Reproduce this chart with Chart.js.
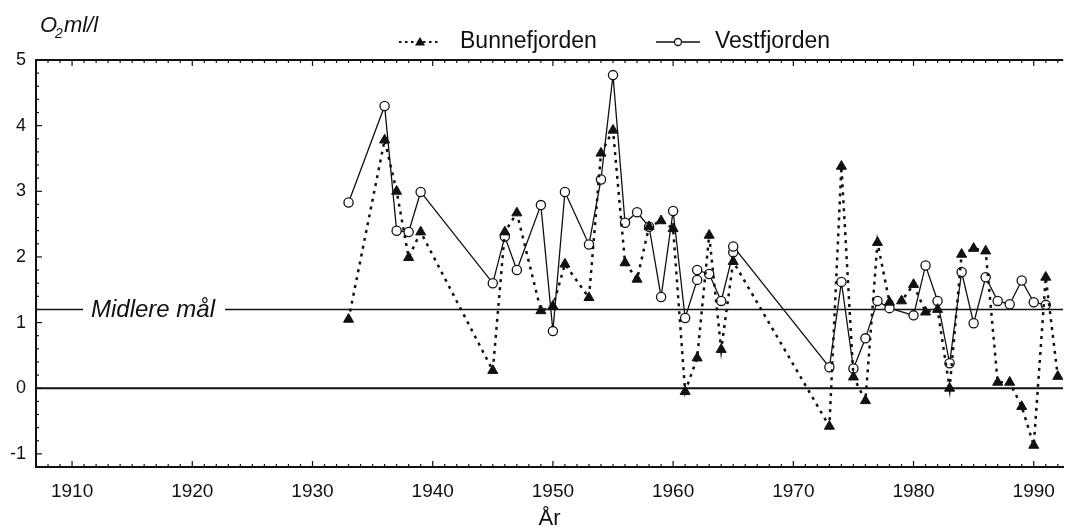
<!DOCTYPE html>
<html><head><meta charset="utf-8">
<script src="https://cdn.jsdelivr.net/npm/chart.js@4.4.1/dist/chart.umd.min.js"></script>
<style>html,body{margin:0;padding:0;background:#fff;}canvas{display:block}</style>
</head><body>
<canvas id="c" width="1070" height="532"></canvas>
<script>
// ---- data ----
const YEARS_BUNNE = [1933,1936,1937,1938,1939,1945,1946,1947,1949,1950,1951,1953,1954,1955,1956,1957,1958,1959,1960,1961,1962,1963,1964,1965,1973,1974,1975,1976,1977,1978,1979,1980,1981,1982,1983,1984,1985,1986,1987,1988,1989,1990,1991,1992];
const BUNNE = [1.05,3.78,3.00,1.99,2.38,0.27,2.38,2.67,1.18,1.25,1.89,1.38,3.58,3.93,1.91,1.66,2.46,2.55,2.43,-0.05,0.46,2.33,0.59,1.93,-0.58,3.38,0.17,-0.19,2.22,1.31,1.33,1.58,1.16,1.20,0.00,2.04,2.13,2.09,0.09,0.09,-0.28,-0.87,1.69,0.18];
const YEARS_VEST = [1933,1936,1937,1938,1939,1945,1946,1947,1949,1950,1951,1953,1954,1955,1956,1957,1958,1959,1960,1961,1962,1962,1963,1964,1965,1965,1973,1974,1975,1976,1977,1978,1980,1981,1982,1983,1984,1985,1986,1987,1988,1989,1990,1991];
const VEST = [2.83,4.30,2.40,2.38,2.99,1.60,2.31,1.80,2.79,0.87,2.99,2.19,3.18,4.77,2.52,2.68,2.46,1.39,2.70,1.07,1.65,1.80,1.74,1.33,2.07,2.16,0.32,1.62,0.30,0.76,1.33,1.22,1.11,1.87,1.33,0.38,1.77,0.99,1.69,1.33,1.28,1.64,1.31,1.27];
const X_TICKS = [1910,1920,1930,1940,1950,1960,1970,1980,1990];
const Y_TICKS = [-1,0,1,2,3,4,5];
const X_MIN = 1907, X_MAX = 1992.45, Y_MIN = -1.2, Y_MAX = 5;
const MEAN_LEVEL = 1.2;
const ZERO_LEVEL = 0;
const SERIES_NAMES = ['Bunnefjorden','Vestfjorden'];
const MEAN_LABEL = 'Midlere mål';
const X_TITLE = 'År';
const Y_UNIT = ['O','2','ml/l'];

const FONT = "'Liberation Sans', Arial, Helvetica, sans-serif";
const INK = '#111';

function pts(xs, ys){ return xs.map((x,i)=>({x:x,y:ys[i]})); }

const decor = {
  id:'decor',
  afterDatasetsDraw(chart){
    const ctx = chart.ctx, ca = chart.chartArea;
    const xs = chart.scales.x, ys = chart.scales.y;
    ctx.save();
    ctx.strokeStyle = INK;
    // top border
    ctx.lineWidth = 2;
    ctx.beginPath(); ctx.moveTo(ca.left, ca.top); ctx.lineTo(ca.right, ca.top); ctx.stroke();
    // year ticks bottom/top
    ctx.lineWidth = 1.2;
    for (let yr = Math.ceil(X_MIN); yr <= X_MAX; yr++) {
      const px = xs.getPixelForValue(yr);
      const len = (yr % 10 === 0) ? 6 : 3;
      ctx.beginPath();
      ctx.moveTo(px, ca.bottom); ctx.lineTo(px, ca.bottom - len);
      ctx.moveTo(px, ca.top); ctx.lineTo(px, ca.top + len);
      ctx.stroke();
    }
    // y ticks every 0.2
    for (let k = Math.round(Y_MIN*5)+1; k < Math.round(Y_MAX*5); k++) {
      const v = k/5;
      const py = ys.getPixelForValue(v);
      const len = (k % 5 === 0) ? 6 : 3;
      ctx.beginPath(); ctx.moveTo(ca.left, py); ctx.lineTo(ca.left + len, py); ctx.stroke();
    }
    // mean label
    const my = ys.getPixelForValue(MEAN_LEVEL);
    ctx.font = 'italic 24px ' + FONT;
    const tw = ctx.measureText(MEAN_LABEL).width;
    ctx.fillStyle = '#fff';
    ctx.fillRect(ca.left + 47, my - 6, tw + 18, 12);
    ctx.fillStyle = INK;
    ctx.textBaseline = 'middle'; ctx.textAlign = 'left';
    ctx.fillText(MEAN_LABEL, ca.left + 55, my + 1);
    ctx.restore();
  },
  afterDraw(chart){
    const ctx = chart.ctx;
    ctx.save();
    ctx.fillStyle = INK; ctx.strokeStyle = INK;
    // y unit label
    ctx.textBaseline = 'alphabetic'; ctx.textAlign = 'left';
    ctx.font = 'italic 22px ' + FONT;
    let x = 40;
    ctx.fillText(Y_UNIT[0], x, 32); x += ctx.measureText(Y_UNIT[0]).width;
    ctx.font = 'italic 14px ' + FONT;
    ctx.fillText(Y_UNIT[1], x - 2, 38); x += ctx.measureText(Y_UNIT[1]).width - 1;
    ctx.font = 'italic 22px ' + FONT;
    ctx.fillText(Y_UNIT[2], x, 32);
    // legend
    const ly = 42;
    ctx.lineWidth = 2.2; ctx.setLineDash([2.5,3.5]);
    ctx.beginPath(); ctx.moveTo(399, ly); ctx.lineTo(441, ly); ctx.stroke();
    ctx.setLineDash([]);
    ctx.beginPath(); ctx.moveTo(420, ly-5); ctx.lineTo(425, ly+3.5); ctx.lineTo(415, ly+3.5); ctx.closePath(); ctx.fill();
    ctx.lineWidth = 1.3;
    ctx.beginPath(); ctx.moveTo(656, ly); ctx.lineTo(700, ly); ctx.stroke();
    ctx.fillStyle = '#fff';
    ctx.beginPath(); ctx.arc(678, ly, 3.5, 0, Math.PI*2); ctx.fill(); ctx.stroke();
    ctx.fillStyle = INK;
    ctx.font = '23px ' + FONT; ctx.textBaseline = 'middle';
    ctx.fillText(SERIES_NAMES[0], 460, ly);
    ctx.fillText(SERIES_NAMES[1], 715, ly);
    ctx.restore();
  }
};

new Chart(document.getElementById('c'), {
  type:'line',
  data:{ datasets:[
    { label:SERIES_NAMES[0], data:pts(YEARS_BUNNE, BUNNE), borderColor:INK, borderWidth:2.5, borderDash:[3,5],
      pointStyle:'triangle', pointRadius:5.8, pointBackgroundColor:INK, pointBorderColor:INK, pointBorderWidth:1, tension:0 },
    { label:SERIES_NAMES[1], data:pts(YEARS_VEST, VEST), borderColor:INK, borderWidth:1.3,
      pointStyle:'circle', pointRadius:4.6, pointBackgroundColor:'#fff', pointBorderColor:INK, pointBorderWidth:1.3, tension:0 },
    { label:'mean', data:[{x:X_MIN,y:MEAN_LEVEL},{x:X_MAX,y:MEAN_LEVEL}], borderColor:INK, borderWidth:1.5, pointRadius:0 },
    { label:'zero', data:[{x:X_MIN,y:ZERO_LEVEL},{x:X_MAX,y:ZERO_LEVEL}], borderColor:INK, borderWidth:1.8, pointRadius:0 }
  ]},
  options:{
    responsive:false, animation:false, events:[],
    layout:{ padding:{ top:60, left:0, right:0, bottom:0 } },
    plugins:{ legend:{display:false}, tooltip:{enabled:false} },
    scales:{
      x:{ type:'linear', min:X_MIN, max:X_MAX,
        afterBuildTicks(s){ s.ticks = X_TICKS.map(v=>({value:v})); },
        afterFit(s){ s.height = 65; },
        grid:{ display:false, drawTicks:false },
        border:{ display:true, color:INK, width:2 },
        ticks:{ color:INK, font:{ family:FONT, size:19 }, padding:13, maxRotation:0, callback:v=>String(v) },
        title:{ display:true, text:X_TITLE, color:INK, font:{ family:FONT, size:22 }, padding:{top:0,bottom:0} }
      },
      y:{ type:'linear', min:Y_MIN, max:Y_MAX,
        afterBuildTicks(s){ s.ticks = Y_TICKS.map(v=>({value:v})); },
        afterFit(s){ s.width = 36; },
        grid:{ display:false, drawTicks:false },
        border:{ display:true, color:INK, width:2 },
        ticks:{ color:INK, font:{ family:FONT, size:18 }, padding:10, callback:v=>String(v) }
      }
    }
  },
  plugins:[decor]
});
</script>
</body></html>
